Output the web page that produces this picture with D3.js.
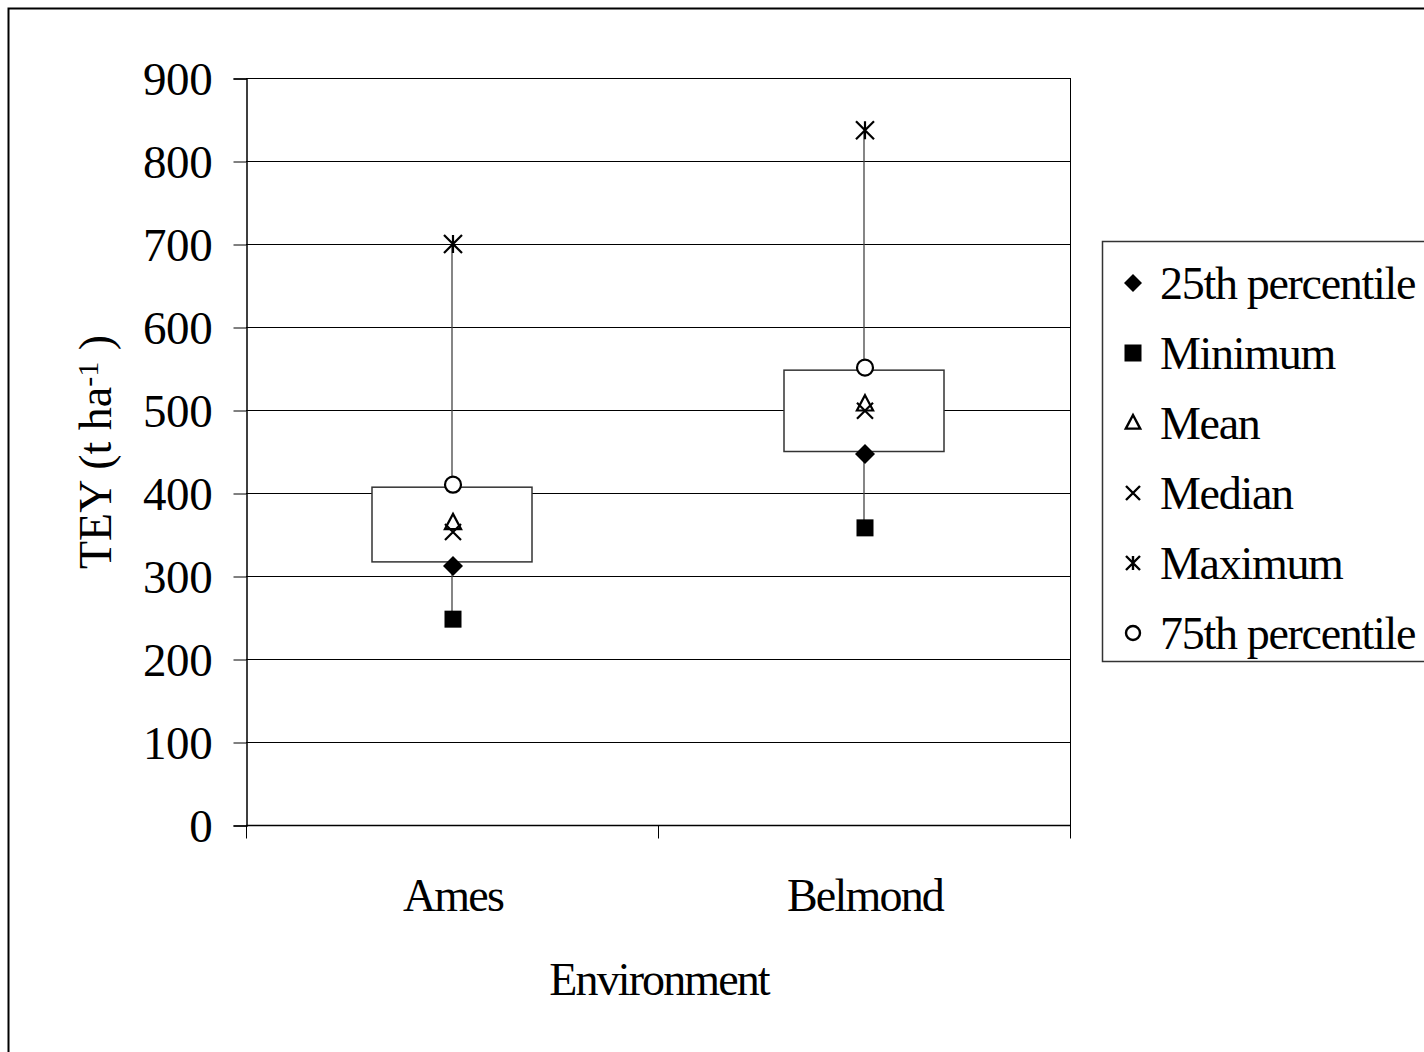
<!DOCTYPE html>
<html>
<head>
<meta charset="utf-8">
<script src="https://cdn.jsdelivr.net/npm/d3@7"></script>
<style>
  body { margin: 0; background: #fff; }
  svg { display: block; }
  text { font-family: "Liberation Serif", "Times New Roman", serif; fill: #000; }
</style>
</head>
<body>
<div id="chart"></div>
<script>
// data
var environments = ["Ames", "Belmond"];
var minimum   = [248, 358];
var pct25     = [312, 447];
var mean      = [364, 507];
var median    = [353, 499];
var pct75     = [410, 551];
var maximum   = [700, 837];
var boxBottom = [317, 450];
var boxTop    = [407, 548];
var yTicks = [0, 100, 200, 300, 400, 500, 600, 700, 800, 900];
var legendLabels = ["25th percentile", "Minimum", "Mean", "Median", "Maximum", "75th percentile"];

var w = 1424, h = 1052;
var plotLeft = 246, plotRight = 1070, plotTop = 78, plotBottom = 825;

var svg = d3.select("#chart").append("svg")
    .attr("width", w)
    .attr("height", h);

// outer frame, runs off the right and bottom edges
svg.append("rect")
    .attr("x", 8.5).attr("y", 8.5)
    .attr("width", 1440).attr("height", 1080)
    .attr("fill", "none")
    .attr("stroke", "#000")
    .attr("stroke-width", 2);

var yScale = d3.scaleLinear([0, 900], [plotBottom, plotTop]);
var xScale = d3.scaleBand().domain(environments).range([plotLeft, plotRight]).padding(0);
var cx = function (i) { return xScale(environments[i]) + xScale.bandwidth() / 2; };

// gridlines
svg.append("g")
    .selectAll("line")
    .data(yTicks.filter(function (d) { return d > 0; }))
    .join("line")
    .attr("x1", plotLeft).attr("x2", plotRight)
    .attr("y1", d => Math.round(yScale(d)) + 0.5)
    .attr("y2", d => Math.round(yScale(d)) + 0.5)
    .attr("stroke", "#000")
    .attr("stroke-width", 1);

// right edge of plot area
svg.append("line")
    .attr("x1", plotRight + 0.5).attr("x2", plotRight + 0.5)
    .attr("y1", plotTop).attr("y2", plotBottom)
    .attr("stroke", "#000");

// y axis
var yAxis = d3.axisLeft(yScale).tickValues(yTicks).tickSize(13).tickPadding(21);
var gy = svg.append("g")
    .attr("transform", "translate(" + (plotLeft + 0.5) + ",0.5)")
    .call(yAxis);
gy.selectAll("text").style("font-size", "47px").style("letter-spacing", "-0.3px").attr("dy", "0.34em");
gy.select(".domain").attr("stroke-width", 1.5);

// x axis: ticks on band edges
var gx = svg.append("g")
    .attr("transform", "translate(0," + (plotBottom + 0.5) + ")");
gx.append("line")
    .attr("x1", plotLeft).attr("x2", plotRight + 1)
    .attr("stroke", "#000").attr("stroke-width", 1.5);
gx.selectAll(".edge")
    .data(environments.concat(["end"]))
    .join("line")
    .attr("class", "edge")
    .attr("x1", (d, i) => Math.round(plotLeft + i * xScale.bandwidth()) + 0.5)
    .attr("x2", (d, i) => Math.round(plotLeft + i * xScale.bandwidth()) + 0.5)
    .attr("y1", 0).attr("y2", 13)
    .attr("stroke", "#000");
gx.selectAll(".lab")
    .data(environments)
    .join("text")
    .attr("class", "lab")
    .attr("x", (d, i) => cx(i) + 1)
    .attr("y", 85)
    .attr("text-anchor", "middle")
    .style("font-size", "46px")
    .style("letter-spacing", "-1.8px")
    .text(d => d);

// axis titles
svg.append("text")
    .attr("x", 659).attr("y", 995)
    .attr("text-anchor", "middle")
    .style("font-size", "46px")
    .style("letter-spacing", "-1.9px")
    .text("Environment");

var yt = svg.append("text")
    .attr("transform", "translate(111,452) rotate(-90)")
    .attr("text-anchor", "middle")
    .style("font-size", "46px");
yt.append("tspan").text("TEY (t ha");
yt.append("tspan").attr("dy", "-0.45em").style("font-size", "30px").text("-1");
yt.append("tspan").attr("dy", "0.3em").text(" )");

// boxes
var boxW = 160;
svg.append("g")
    .selectAll("rect")
    .data(environments)
    .join("rect")
    .attr("x", (d, i) => cx(i) - boxW / 2)
    .attr("y", (d, i) => yScale(boxTop[i]))
    .attr("width", boxW)
    .attr("height", (d, i) => yScale(boxBottom[i]) - yScale(boxTop[i]))
    .attr("fill", "#fff")
    .attr("stroke", "#333")
    .attr("stroke-width", 1.5);

// whiskers
var wh = svg.append("g").attr("stroke", "#444").attr("stroke-width", 1.3);
environments.forEach(function (d, i) {
    wh.append("line")
        .attr("x1", cx(i)).attr("x2", cx(i))
        .attr("y1", yScale(minimum[i])).attr("y2", yScale(boxBottom[i]));
    wh.append("line")
        .attr("x1", cx(i)).attr("x2", cx(i))
        .attr("y1", yScale(boxTop[i])).attr("y2", yScale(maximum[i]));
});

// marker drawing
function drawMarker(g, type, x, y, s, sw) {
    var r = s / 2;
    sw = sw || 2.2;
    if (type === "diamond") {
        g.append("path")
            .attr("d", "M" + x + "," + (y - r) + "L" + (x + r) + "," + y + "L" + x + "," + (y + r) + "L" + (x - r) + "," + y + "Z")
            .attr("fill", "#000");
    } else if (type === "square") {
        g.append("rect")
            .attr("x", x - r).attr("y", y - r)
            .attr("width", s).attr("height", s)
            .attr("fill", "#000");
    } else if (type === "triangle") {
        g.append("path")
            .attr("d", "M" + x + "," + (y - r) + "L" + (x + r * 0.9) + "," + (y + r * 0.7) + "L" + (x - r * 0.9) + "," + (y + r * 0.7) + "Z")
            .attr("fill", "none").attr("stroke", "#000").attr("stroke-width", sw);
    } else if (type === "x") {
        g.append("path")
            .attr("d", "M" + (x - r) + "," + (y - r) + "L" + (x + r) + "," + (y + r) + "M" + (x + r) + "," + (y - r) + "L" + (x - r) + "," + (y + r))
            .attr("stroke", "#000").attr("stroke-width", sw);
    } else if (type === "star") {
        g.append("path")
            .attr("d", "M" + (x - r) + "," + (y - r) + "L" + (x + r) + "," + (y + r) + "M" + (x + r) + "," + (y - r) + "L" + (x - r) + "," + (y + r) + "M" + x + "," + (y - r) + "L" + x + "," + (y + r))
            .attr("stroke", "#000").attr("stroke-width", sw);
    } else if (type === "circle") {
        g.append("circle")
            .attr("cx", x).attr("cy", y).attr("r", r)
            .attr("fill", "#fff").attr("stroke", "#000").attr("stroke-width", sw);
    }
}

var series = [
    { type: "diamond", values: pct25, size: 20 },
    { type: "square", values: minimum, size: 17 },
    { type: "triangle", values: mean, size: 18 },
    { type: "x", values: median, size: 16 },
    { type: "star", values: maximum, size: 18 },
    { type: "circle", values: pct75, size: 16 }
];

var marks = svg.append("g");
series.forEach(function (s) {
    s.values.forEach(function (v, i) {
        drawMarker(marks, s.type, cx(i) + 1, yScale(v), s.size);
    });
});

// legend
var legend = svg.append("g");
legend.append("rect")
    .attr("x", 1102.5).attr("y", 241.5)
    .attr("width", 340).attr("height", 420)
    .attr("fill", "#fff")
    .attr("stroke", "#333")
    .attr("stroke-width", 1.5);
var legendSizes = [18, 17, 16, 14, 14, 14];
legendLabels.forEach(function (d, i) {
    var y = 283 + i * 70;
    drawMarker(legend, series[i].type, 1133, y, legendSizes[i], 2.4);
    legend.append("text")
        .attr("x", 1160).attr("y", y + 16)
        .style("font-size", "46px")
        .style("letter-spacing", "-1.3px")
        .text(d);
});
</script>
</body>
</html>
